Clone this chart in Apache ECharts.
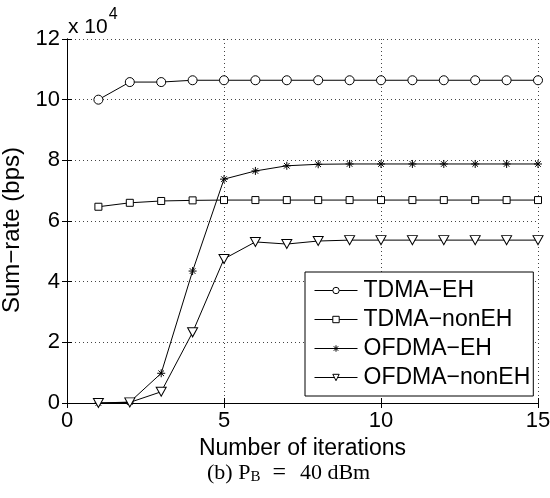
<!DOCTYPE html>
<html>
<head>
<meta charset="utf-8">
<script src="https://cdn.jsdelivr.net/npm/echarts@6/dist/echarts.min.js"></script>
<style>html,body{margin:0;padding:0;background:#fff;}#c{width:550px;height:498px;}</style>
</head>
<body>
<div id="c"></div>
<script>
const iterations = [1,2,3,4,5,6,7,8,9,10,11,12,13,14,15];
const tdmaEH     = [100000,105800,105800,106400,106400,106400,106400,106400,106400,106400,106400,106400,106400,106400,106400];
const tdmaNonEH  = [64700,66000,66600,66800,66900,66900,66900,66900,66900,66900,66900,66900,66900,66900,66900];
const ofdmaEH    = [0,300,9800,43500,73800,76500,78200,78700,78800,78800,78800,78800,78800,78800,78800];
const ofdmaNonEH = [0,200,3700,23300,47500,53100,52400,53400,53700,53700,53700,53700,53700,53700,53700];
const seriesNames = ['TDMA\u2212EH','TDMA\u2212nonEH','OFDMA\u2212EH','OFDMA\u2212nonEH'];
const xTicks = [0,5,10,15];
const yTicks = [0,2,4,6,8,10,12];

const font = 'Liberation Sans, Arial, Helvetica, sans-serif';
const serif = 'Liberation Serif, Times New Roman, serif';
const chart = echarts.init(document.getElementById('c'));
const pair = arr => arr.map((v,i)=>[iterations[i], v]);

const triDown = 'path://M0,0L10,0L5,8.66Z';
const aster = 'path://M5,0L5,10M0,5L10,5M1.5,1.5L8.5,8.5M1.5,8.5L8.5,1.5';

function mk(name, data, symbol, size, fill) {
  return {
    name, type:'line', data: pair(data), symbol, symbolSize:size,
    showSymbol:true, animation:false,
    lineStyle:{color:'#000', width:1},
    itemStyle:{color: fill, borderColor:'#000', borderWidth:1},
    emphasis:{disabled:true}
  };
}

chart.setOption({
  animation:false,
  backgroundColor:'#fff',
  grid:{left:67, right:12, top:39, bottom:95, containLabel:false, outerBoundsMode:'none'},
  legend:{
    orient:'vertical', left:305, top:272,
    backgroundColor:'#fff', borderColor:'#000', borderWidth:1, borderRadius:0,
    padding:[7,3,7,9], itemGap:6, itemWidth:43, itemHeight:8,
    itemStyle:{borderWidth:1},
    lineStyle:{width:1},
    textStyle:{fontFamily:font, fontSize:23, color:'#000', padding:[0,0,0,1]},
    data: seriesNames
  },
  xAxis:[{
    type:'value', min:0, max:15, interval:5,
    axisLine:{show:true, onZero:false, lineStyle:{color:'#000', width:1}},
    axisTick:{show:true, inside:true, length:5, lineStyle:{color:'#000'}},
    axisLabel:{fontFamily:font, fontSize:22, color:'#000', margin:7,
      formatter: v => xTicks.includes(v) ? String(v) : ''},
    splitLine:{show:true, lineStyle:{color:'#444', type:[1,3], width:1}},
    name:'Number of iterations', nameLocation:'middle', nameGap:29,
    nameTextStyle:{fontFamily:font, fontSize:23, color:'#000'}
  },{
    type:'value', position:'top', min:0, max:15, interval:5,
    axisLine:{show:true, lineStyle:{color:'#000', width:1}},
    axisTick:{show:true, inside:true, length:5, lineStyle:{color:'#000'}},
    axisLabel:{show:false}, splitLine:{show:false}
  }],
  yAxis:[{
    type:'value', min:0, max:120000, interval:20000,
    axisLine:{show:true, onZero:false, lineStyle:{color:'#000', width:1}},
    axisTick:{show:true, inside:true, length:5, lineStyle:{color:'#000'}},
    axisLabel:{fontFamily:font, fontSize:22, color:'#000', margin:7,
      formatter: v => { const t = v/10000; return yTicks.includes(t) ? String(t) : ''; }},
    splitLine:{show:true, lineStyle:{color:'#444', type:[1,3], width:1}},
    name:'Sum\u2212rate (bps)', nameLocation:'middle', nameGap:37,
    nameTextStyle:{fontFamily:font, fontSize:24, color:'#000', padding:[0,18,0,0]}
  },{
    type:'value', position:'right', min:0, max:120000, interval:20000,
    axisLine:{show:true, lineStyle:{color:'#000', width:1}},
    axisTick:{show:true, inside:true, length:5, lineStyle:{color:'#000'}},
    axisLabel:{show:false}, splitLine:{show:false}
  }],
  series:[
    mk(seriesNames[0], tdmaEH, 'circle', 9, '#fff'),
    mk(seriesNames[1], tdmaNonEH, 'rect', 7, '#fff'),
    mk(seriesNames[2], ofdmaEH, aster, 8, 'rgba(0,0,0,0)'),
    mk(seriesNames[3], ofdmaNonEH, triDown, [10,9], '#fff')
  ],
  graphic:[
    {type:'text', left:68, top:7, style:{
      text:'{a|x 10}{s|4}', rich:{
        a:{fontFamily:font, fontSize:21, color:'#000', padding:[10,0,0,0]},
        s:{fontFamily:font, fontSize:16, color:'#000', verticalAlign:'top', padding:[0,0,12,1]}
      }}},
    {type:'text', left:207, top:461, style:{
      text:'{t|(b) P}{sub|B}{eq|=}{t|40 dBm}', rich:{
        t:{fontFamily:serif, fontSize:22, color:'#000'},
        sub:{fontFamily:serif, fontSize:15, color:'#000', padding:[8,0,0,0]},
        eq:{fontFamily:serif, fontSize:24, color:'#000', padding:[0,14,0,12]}
      }}}
  ]
});
</script>
</body>
</html>
